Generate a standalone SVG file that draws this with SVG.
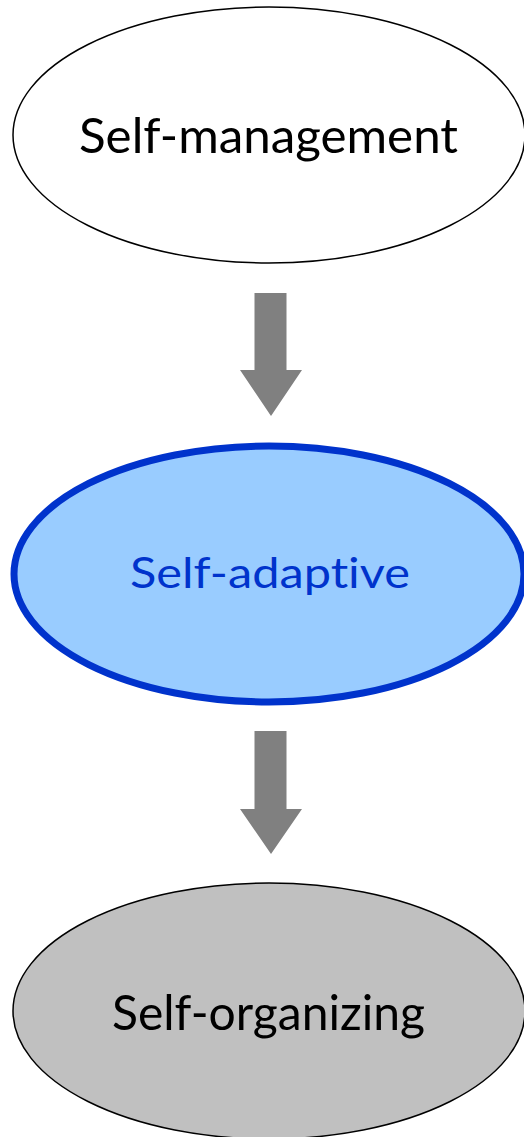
<svg xmlns="http://www.w3.org/2000/svg" width="524" height="1137" viewBox="0 0 524 1137">
  <style>
    .label { font-family: Lato, "Open Sans", sans-serif; text-anchor: middle; font-variant-ligatures: none; font-feature-settings: "liga" 0, "dlig" 0; }
    .arrow { fill: #808080; }
  </style>
  <rect width="524" height="1137" fill="#ffffff"/>

  <g id="node-self-management">
    <ellipse cx="269" cy="135" rx="256" ry="128" fill="#ffffff" stroke="#000000" stroke-width="1.5"/>
    <text class="label" x="268.5" y="153" font-size="49" fill="#000000" textLength="379" lengthAdjust="spacingAndGlyphs">Self-management</text>
  </g>

  <g id="node-self-adaptive">
    <ellipse cx="269" cy="574" rx="255" ry="128" fill="#99ccff" stroke="#0033cc" stroke-width="7"/>
    <text class="label" x="270" y="588" font-size="42" fill="#0033cc" textLength="280" lengthAdjust="spacingAndGlyphs">Self-adaptive</text>
  </g>

  <g id="node-self-organizing">
    <ellipse cx="269" cy="1011" rx="256" ry="128" fill="#c0c0c0" stroke="#000000" stroke-width="1.5"/>
    <text class="label" x="268.5" y="1030" font-size="49" fill="#000000" textLength="313" lengthAdjust="spacingAndGlyphs">Self-organizing</text>
  </g>

  <g id="connectors">
    <polygon class="arrow" points="254.5,293 286.5,293 286.5,370 302,370 271,416 240,370 254.5,370"/>
    <polygon class="arrow" points="254.5,731 286.5,731 286.5,809 302,809 271,854 240,809 254.5,809"/>
  </g>
</svg>
